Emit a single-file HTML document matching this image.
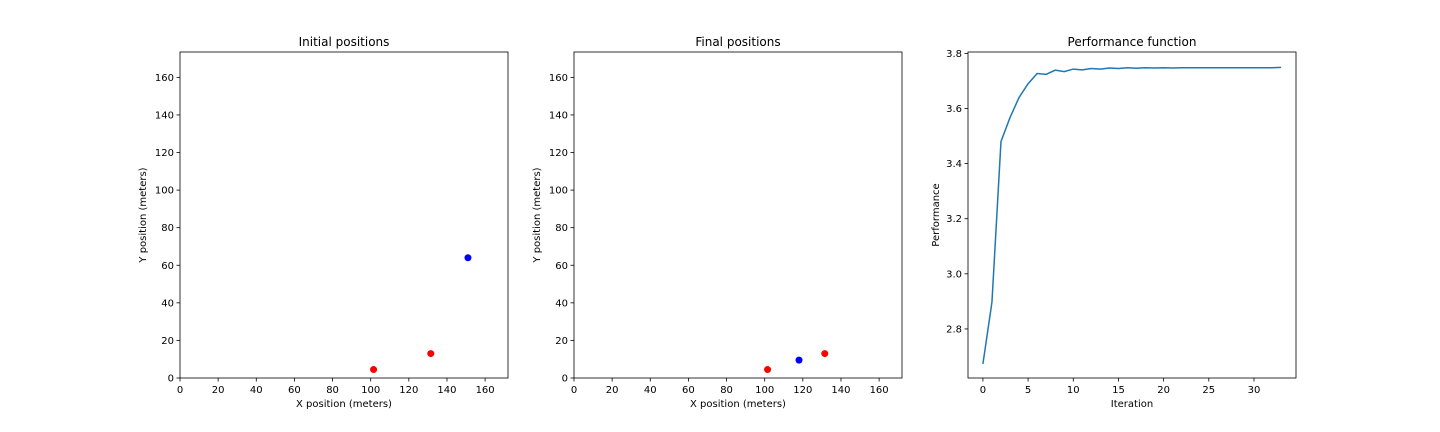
<!DOCTYPE html>
<html><head><meta charset="utf-8"><style>
body{margin:0;background:#fff;}
svg{display:block;font-family:"DejaVu Sans","Liberation Sans",sans-serif;}
</style></head><body>
<svg id="c" width="1440" height="432"></svg>
<script>
const initRedX=[101.5,131.5], initRedY=[4.5,13];
const initBlueX=[151], initBlueY=[64];
const finRedX=[101.5,131.5], finRedY=[4.5,13];
const finBlueX=[118], finBlueY=[9.5];
const posTicks=[0,20,40,60,80,100,120,140,160];
const perfValues=[2.673,2.897,3.48,3.567,3.64,3.69,3.727,3.724,3.739,3.734,3.743,3.740,3.745,3.743,3.747,3.745,3.748,3.746,3.748,3.747,3.748,3.747,3.748,3.748,3.748,3.748,3.748,3.748,3.748,3.748,3.748,3.748,3.748,3.749];
const perfXTicks=[0,5,10,15,20,25,30];
const perfYTicks=[2.8,3.0,3.2,3.4,3.6,3.8];
const NS='http://www.w3.org/2000/svg';
const svg=document.getElementById('c');
function el(t,a,p){const e=document.createElementNS(NS,t);for(const k in a)e.setAttribute(k,a[k]);(p||svg).appendChild(e);return e;}
function txt(x,y,s,anchor,size,rot,p){const a={x:x,y:y,'font-size':size||10,'text-anchor':anchor||'middle',fill:'#000'};if(rot)a.transform='rotate(-90 '+x+' '+y+')';const e=el('text',a,p);e.textContent=s;return e;}
function panel(x0,x1,y0,y1,xmin,xmax,ymin,ymax,title,xlabel,ylabel,xticks,yticks,yfmt,name){
  const g=el('g',{});
  
  
  const sx=v=>x0+(v-xmin)/(xmax-xmin)*(x1-x0);
  const sy=v=>y1-(v-ymin)/(ymax-ymin)*(y1-y0);
  xticks.forEach(t=>{const X=sx(t);el('line',{x1:X,x2:X,y1:y1,y2:y1+3.5,stroke:'#000','stroke-width':0.8},g);const l=txt(X,y1+15,String(t),'middle',10,0,g);});
  yticks.forEach(t=>{const Y=sy(t);el('line',{x1:x0-3.5,x2:x0,y1:Y,y2:Y,stroke:'#000','stroke-width':0.8},g);const l=txt(x0-6,Y+3.5,yfmt(t),'end',10,0,g);});
  const tt=txt((x0+x1)/2,y0-6,title,'middle',12,0,g);
  const xl=txt((x0+x1)/2,y1+29,xlabel,'middle',10,0,g);
  return {g,sx,sy,box:()=>{const r=el('rect',{x:x0,y:y0,width:x1-x0,height:y1-y0,fill:'none',stroke:'#000','stroke-width':0.8},g);}};
}
function dots(p,xs,ys,color,name){xs.forEach((x,i)=>{const c=el('circle',{cx:p.sx(x),cy:p.sy(ys[i]),r:3.5,fill:color},p.g);});}
const p1=panel(180,508,52,378,0,172,0,173.5,'Initial positions','X position (meters)','',posTicks,posTicks,String,'initial-positions-panel');
const y1=txt(146,215,'Y position (meters)','middle',10,true,p1.g);
dots(p1,initRedX,initRedY,'#ff0000','red-point');dots(p1,initBlueX,initBlueY,'#0000ff','blue-point');p1.box();
const p2=panel(574,902,52,378,0,172,0,173.5,'Final positions','X position (meters)','',posTicks,posTicks,String,'final-positions-panel');
const y2=txt(540,215,'Y position (meters)','middle',10,true,p2.g);
dots(p2,finRedX,finRedY,'#ff0000','red-point');dots(p2,finBlueX,finBlueY,'#0000ff','blue-point');p2.box();
const p3=panel(968,1296,52,378,-1.65,34.65,2.622,3.805,'Performance function','Iteration','',perfXTicks,perfYTicks,v=>v.toFixed(1),'performance-panel');
const y3=txt(939,215,'Performance','middle',10,true,p3.g);
const line=el('polyline',{points:perfValues.map((v,i)=>p3.sx(i)+','+p3.sy(v)).join(' '),fill:'none',stroke:'#1f77b4','stroke-width':1.5},p3.g);


p3.box();
</script>
</body></html>
